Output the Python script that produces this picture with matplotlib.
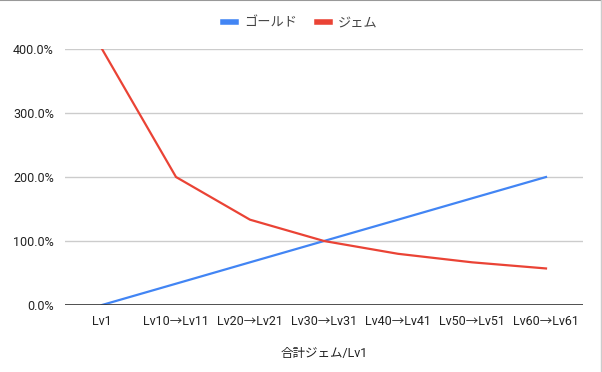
import matplotlib
matplotlib.use("Agg")
import matplotlib.pyplot as plt
from matplotlib.ticker import FuncFormatter
from matplotlib.lines import Line2D

plt.rcParams['font.family'] = ['Roboto', 'Noto Sans CJK JP', 'DejaVu Sans']

categories = ["Lv1", "Lv10→Lv11", "Lv20→Lv21", "Lv30→Lv31", "Lv40→Lv41", "Lv50→Lv51", "Lv60→Lv61"]
gold = [0.0, 33.3, 66.7, 100.0, 133.3, 166.7, 200.0]
gem = [400.0, 200.0, 133.3, 100.0, 80.0, 66.7, 57.1]
series_names = ["ゴールド", "ジェム"]
yticks = [0, 100, 200, 300, 400]
xlabel = "合計ジェム/Lv1"

blue = "#4285F4"
red = "#EA4335"
txt = "#222222"

fig = plt.figure(figsize=(6.02, 3.72), dpi=100)
ax = fig.add_axes([65/602, 1-305/372, 518/602, 256/372])
x = list(range(len(categories)))
ax.plot(x, gold, color=blue, lw=1.6, label=series_names[0], zorder=3)
ax.plot(x, gem, color=red, lw=1.6, label=series_names[1], zorder=3)
ax.set_xlim(-0.5, len(categories)-0.5)
ax.set_ylim(0, 400)
ax.set_yticks(yticks)
ax.yaxis.set_major_formatter(FuncFormatter(lambda v, p: f"{v:.1f}%"))
ax.set_xticks(x)
ax.set_xticklabels(categories)
ax.grid(axis='y', color='#cccccc', lw=1)
ax.axhline(0, color='#333333', lw=1.2, zorder=4)
for s in ax.spines.values():
    s.set_visible(False)
ax.tick_params(axis='both', length=0, labelsize=9, colors=txt)
ax.tick_params(axis='y', pad=8)
ax.tick_params(axis='x', pad=7)
ax.set_xlabel(xlabel, fontsize=9, color=txt, labelpad=14)

handles = [Line2D([], [], color=blue, lw=4), Line2D([], [], color=red, lw=4)]
fig.legend(handles, series_names, loc='center', bbox_to_anchor=(300/602, 1-23/372), ncol=2,
           frameon=False, fontsize=9.5, handlelength=1.0, handletextpad=0.6, columnspacing=1.5,
           labelcolor='#444444')

# outer frame (top and right)
fig.add_artist(Line2D([0, 1], [0.999, 0.999], transform=fig.transFigure, color='#999999', lw=1.5))
fig.add_artist(Line2D([0.998, 0.998], [0, 1], transform=fig.transFigure, color='#cccccc', lw=1))

fig.savefig("out.png", dpi=100)
